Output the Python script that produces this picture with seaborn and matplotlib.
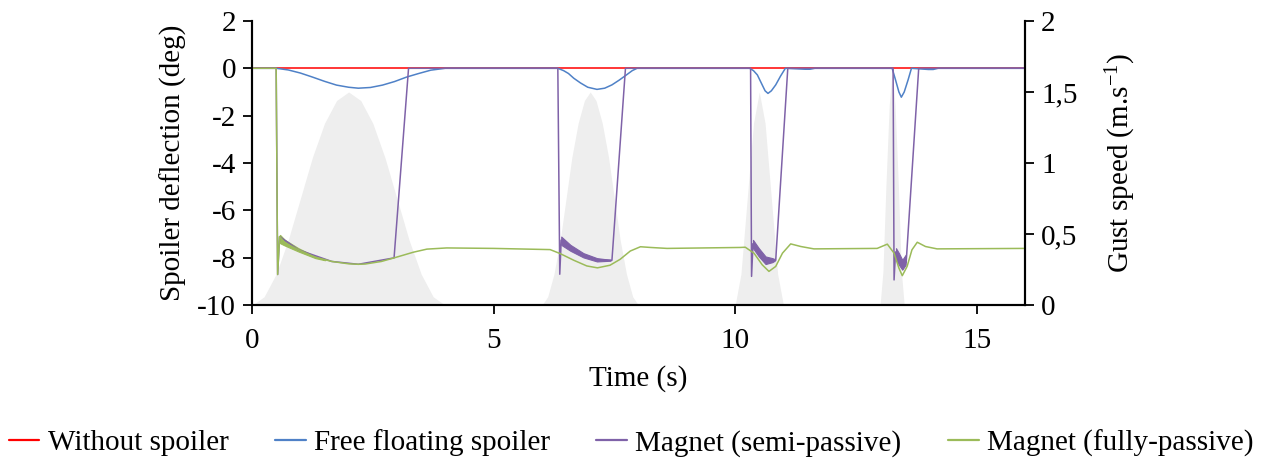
import numpy as np
import pandas as pd
import matplotlib.pyplot as plt
import seaborn as sns

# ---- data ----
# gust speed (right axis), four 1-cos gusts
gust1_t = [0, 0.25, 0.5, 0.75, 1.0, 1.25, 1.5, 1.75, 2.0, 2.25, 2.5, 2.75, 3.0, 3.25, 3.5, 3.75, 4.0]
gust1_v = [0, 0.06, 0.22, 0.46, 0.75, 1.04, 1.28, 1.44, 1.5, 1.44, 1.28, 1.04, 0.75, 0.46, 0.22, 0.06, 0]
gust2_t = [6, 6.12, 6.25, 6.38, 6.5, 6.62, 6.75, 6.88, 7, 7.12, 7.25, 7.38, 7.5, 7.62, 7.75, 7.88, 8]
gust2_v = [0, 0.06, 0.22, 0.46, 0.75, 1.04, 1.28, 1.44, 1.5, 1.44, 1.28, 1.04, 0.75, 0.46, 0.22, 0.06, 0]
gust3_t = [10, 10.12, 10.25, 10.38, 10.5, 10.62, 10.75, 10.88, 11]
gust3_v = [0, 0.22, 0.75, 1.28, 1.5, 1.28, 0.75, 0.22, 0]
gust4_t = [13, 13.06, 13.12, 13.19, 13.25, 13.31, 13.38, 13.44, 13.5]
gust4_v = [0, 0.24, 0.83, 1.41, 1.65, 1.41, 0.83, 0.24, 0]

# spoiler deflection (left axis)
time_none = [0, 16]
defl_none = [0, 0]

time_free = [0, 0.5, 0.75, 1.0, 1.25, 1.5, 1.75, 2.0, 2.2, 2.45, 2.7, 2.95, 3.2, 3.45, 3.7, 4.0,
             6.33, 6.45, 6.55, 6.66, 6.8, 6.95, 7.14, 7.3, 7.45, 7.6, 7.75, 7.87, 7.97,
             10.3, 10.38, 10.46, 10.56, 10.62, 10.68, 10.75, 10.84, 10.94, 11.04, 11.45, 11.55, 11.65,
             13.25, 13.32, 13.39, 13.44, 13.5, 13.58, 13.65, 14.0, 14.1, 14.2, 16]
defl_free = [0, 0, -0.07, -0.2, -0.37, -0.55, -0.71, -0.8, -0.84, -0.81, -0.71, -0.56, -0.37, -0.22, -0.08, 0,
             0, -0.1, -0.22, -0.42, -0.62, -0.8, -0.89, -0.84, -0.7, -0.5, -0.28, -0.1, 0,
             0, -0.1, -0.28, -0.7, -0.95, -1.06, -0.95, -0.7, -0.33, 0, -0.04, -0.04, 0,
             0, -0.49, -1.0, -1.22, -1.0, -0.49, 0, -0.05, -0.05, 0, 0]

time_semi = [0, 0.50, 0.53, 0.57, 0.96, 1.65, 2.2, 2.94, 3.24,
             6.33, 6.37, 6.40, 6.59, 6.86, 7.14, 7.42, 7.45, 7.73,
             10.32, 10.34, 10.37, 10.49, 10.63, 10.77, 10.84, 11.09,
             13.27, 13.29, 13.32, 13.39, 13.46, 13.54, 13.8, 16]
defl_semi = [0, 0, -8.7, -7.1, -7.66, -8.15, -8.27, -8.0, 0,
             0, -8.69, -7.25, -7.58, -7.89, -8.08, -8.1, -8.1, 0,
             0, -8.78, -7.4, -7.76, -8.1, -8.1, -8.1, 0,
             0, -8.93, -7.75, -7.95, -8.3, -8.2, 0, 0]
# oscillation envelopes of the semi-passive spoiler
band2_t = [6.40, 6.59, 6.86, 7.14, 7.42]
band2_hi = [-7.1, -7.45, -7.8, -8.01, -8.08]
band2_lo = [-7.45, -7.7, -7.98, -8.15, -8.12]
band3_t = [10.37, 10.49, 10.63, 10.77, 10.82]
band3_hi = [-7.24, -7.59, -7.94, -8.01, -8.05]
band3_lo = [-7.59, -7.94, -8.26, -8.18, -8.12]
band4_t = [13.33, 13.39, 13.46, 13.53]
band4_hi = [-7.59, -7.8, -8.08, -7.87]
band4_lo = [-8.08, -8.29, -8.5, -8.29]

time_full = [0, 0.50, 0.53, 0.57, 0.68, 0.96, 1.31, 1.65, 2.0, 2.2, 2.34, 2.68, 2.94, 3.34, 3.62, 4.03, 5.0,
             6.17, 6.38, 6.66, 6.93, 7.15, 7.41, 7.62, 7.83, 8.04, 8.25, 8.59,
             10.11, 10.21, 10.39, 10.56, 10.7, 10.84, 10.98, 11.15, 11.36, 11.63,
             12.94, 13.15, 13.29, 13.39, 13.46, 13.56, 13.66, 13.77, 13.94, 14.18, 16]
defl_full = [0, 0, -8.7, -7.1, -7.36, -7.66, -7.97, -8.15, -8.25, -8.27, -8.26, -8.15, -8.0, -7.76, -7.63, -7.58, -7.6,
             -7.65, -7.82, -8.1, -8.34, -8.42, -8.31, -8.06, -7.71, -7.53, -7.56, -7.6,
             -7.56, -7.55, -7.8, -8.29, -8.57, -8.36, -7.8, -7.41, -7.52, -7.62,
             -7.6, -7.42, -7.8, -8.43, -8.75, -8.36, -7.66, -7.34, -7.52, -7.62, -7.6]
# oscillation envelope of the fully-passive spoiler (first gust)
band1_t = [0.58, 0.68, 0.96, 1.31, 1.51]
band1_hi = [-7.03, -7.24, -7.59, -7.94, -8.08]
band1_lo = [-7.38, -7.48, -7.73, -8.01, -8.1]

x_ticks = [0, 5, 10, 15]
y_ticks = [-10, -8, -6, -4, -2, 0, 2]
gust_ticks = [0, 0.5, 1, 1.5, 2]
gust_tick_labels = ['0', '0,5', '1', '1,5', '2']

names = ['Without spoiler', 'Free floating spoiler', 'Magnet (semi-passive)', 'Magnet (fully-passive)']
colors = ['#FF0000', '#4F81C7', '#7F62A8', '#9BBB59']

# ---- style ----
sns.set_style("ticks")
plt.rcParams['font.family'] = ['Liberation Serif', 'DejaVu Serif']
plt.rcParams['mathtext.fontset'] = 'custom'
plt.rcParams['mathtext.rm'] = 'Liberation Serif'
plt.rcParams['mathtext.it'] = 'Liberation Serif:italic'
plt.rcParams['axes.unicode_minus'] = False
plt.rcParams['font.size'] = 21
plt.rcParams['text.color'] = 'black'
plt.rcParams['axes.labelcolor'] = 'black'

fig, ax = plt.subplots(figsize=(12.62, 4.62), dpi=100)
fig.subplots_adjust(left=0.1997, right=0.8122, top=0.9548, bottom=0.3392)

# gusts on the secondary axis, drawn behind the deflection curves
ax2 = ax.twinx()
for gt, gv in [(gust1_t, gust1_v), (gust2_t, gust2_v), (gust3_t, gust3_v), (gust4_t, gust4_v)]:
    ax2.fill_between(gt, gv, 0, color='#EEEEEE', lw=0)
ax2.set_ylim(0, 2)
ax2.set_yticks(gust_ticks)
ax2.set_yticklabels(gust_tick_labels)
ax2.set_ylabel('Gust speed (m.s$^{-1}$)', labelpad=19)
ax.set_zorder(ax2.get_zorder() + 1)
ax.patch.set_visible(False)

series = [(time_none, defl_none), (time_free, defl_free), (time_semi, defl_semi), (time_full, defl_full)]
for (t, d), name, c in zip(series, names, colors):
    df = pd.DataFrame({'time': t, 'defl': d})
    sns.lineplot(data=df, x='time', y='defl', ax=ax, color=c, lw=1.1,
                 estimator=None, sort=False, label=name)
    if name == 'Magnet (semi-passive)':
        for bt, bl, bh in [(band2_t, band2_lo, band2_hi), (band3_t, band3_lo, band3_hi), (band4_t, band4_lo, band4_hi)]:
            ax.fill_between(bt, bl, bh, color=c, lw=0.8, edgecolor=c)
    if name == 'Magnet (fully-passive)':
        ax.fill_between(band1_t, band1_lo, band1_hi, color=c, lw=0.8, edgecolor=c)

handles, labels = ax.get_legend_handles_labels()
ax.get_legend().remove()

ax.set_xlim(0, 16)
ax.set_ylim(-10, 2)
ax.set_xticks(x_ticks)
ax.set_yticks(y_ticks)
ax.set_xlabel('Time (s)', labelpad=8)
ax.set_ylabel('Spoiler deflection (deg)', labelpad=7)

for a in (ax, ax2):
    a.spines['top'].set_visible(False)
    for s in ('left', 'right', 'bottom'):
        a.spines[s].set_linewidth(1.5)
        a.spines[s].set_color('black')
    a.tick_params(direction='out', length=6.5, width=1.3, colors='black', labelsize=21, pad=5)
ax.tick_params(axis='x', pad=10)

leg = fig.legend(handles, labels, loc='center', bbox_to_anchor=(0.5, 1 - 443 / 462), ncol=4,
                 frameon=False, handlelength=1.05, handletextpad=0.28, columnspacing=1.6)
for h in leg.get_lines():
    h.set_linewidth(1.6)

fig.savefig('out.png', dpi=100)
